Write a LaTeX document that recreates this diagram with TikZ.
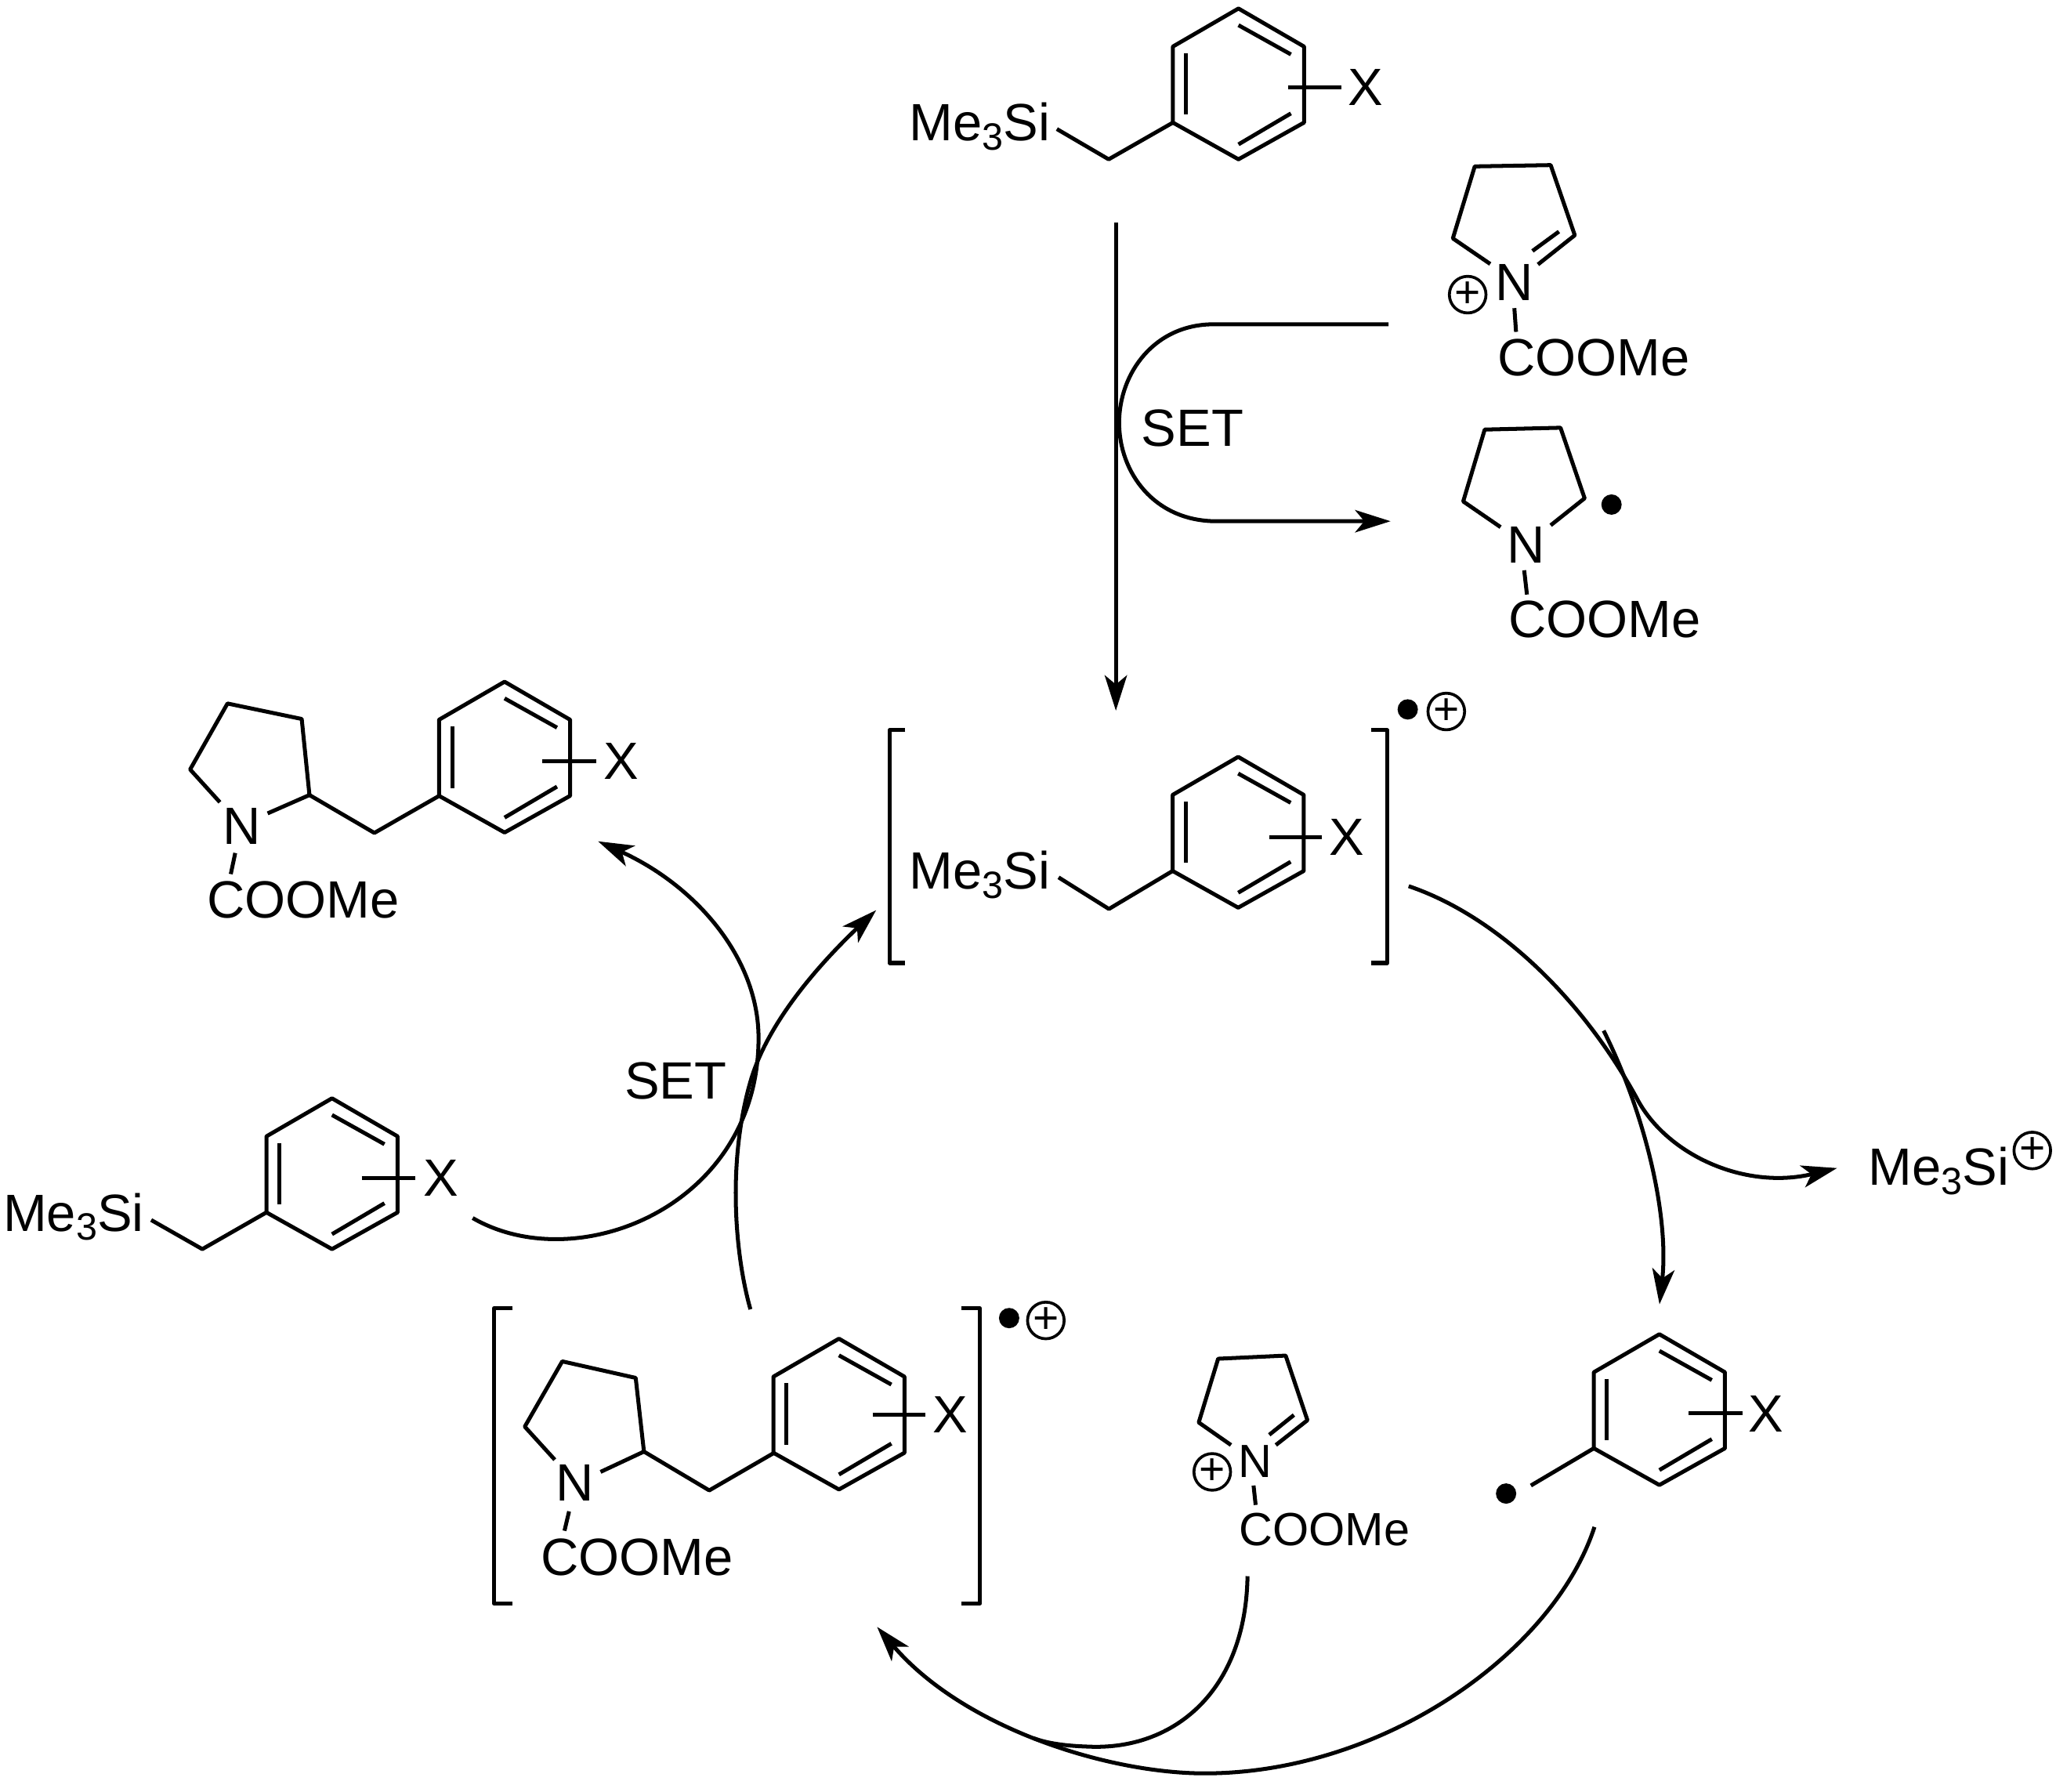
\documentclass[tikz,border=0pt]{standalone}
\usepackage{fontspec}
\setmainfont{Liberation Sans}
\usetikzlibrary{arrows.meta}
\newcommand{\tmsi}{Me{\raisebox{-7pt}{\fontsize{29}{29}\selectfont 3}}Si}
\tikzset{
  bond/.style={line width=3pt,line join=round,line cap=butt},
  link/.style={line width=3pt,line join=round},
  rxn/.style={line width=3pt,-{Stealth[length=27pt,width=17pt,inset=7pt]}},
  chem/.style={inner sep=0pt,outer sep=0pt,font=\fontsize{40}{40}\selectfont},
  lbl/.style={chem,anchor=base west,xshift=-1.5pt},
  chemsmall/.style={inner sep=0pt,outer sep=0pt,font=\fontsize{35.5}{35.5}\selectfont},
  charge/.style={circle,draw,line width=2.2pt,minimum size=27pt,inner sep=0pt,outer sep=0pt,font=\fontsize{34}{34}\selectfont},
  radical/.style={circle,fill=black,draw=none,minimum size=15.5pt,inner sep=0pt,outer sep=0pt},
  benzring/.pic={
    \draw[bond] (0,0) -- (50,29) -- (50,87) -- (0,115) -- (-50,87) -- (-50,29) -- cycle;
    \draw[bond] (-40,34) -- (-40,81);
    \draw[bond] (0,12.7) -- (40,35);
    \draw[bond] (0,103.6) -- (40,80);
  }
}
\begin{document}
\begin{tikzpicture}[x=1pt,y=-1pt]
\useasboundingbox (0,0) rectangle (1568,1366.6);

% --- top substrate
\pic at (944.5,6.5) {benzring};
\node[lbl] (tmsA) at (695,107.4) {\tmsi};
\node[chem] (xA) at (1041.7,66.9) {X};
\coordinate (xbA) at (982.2,66.9);
\coordinate (xeA) at (1023,66.9);
\coordinate (chA) at (845.5,121.5);
\coordinate (ipA) at (894.5,93.5);
\coordinate (siA) at (806,98.4);
\draw[bond] (siA) -- (chA) -- (ipA);
\draw[bond] (xbA) -- (xeA);

% --- N-acyliminium (top)
\node[chem] (nB) at (1154.9,215.4) {N};
\node[lbl] (coB) at (1143.6,286.4) {COOMe};
\node[charge] (plusB) at (1119.3,224.7) {+};
\coordinate (b1) at (1136.5,201.3);
\coordinate (b2) at (1108,181.8);
\coordinate (b3) at (1124.7,126.9);
\coordinate (b4) at (1182.6,125.9);
\coordinate (b5) at (1201,179.4);
\coordinate (b6) at (1172.9,201.7);
\draw[bond] (b1) -- (b2) -- (b3) -- (b4) -- (b5) -- (b6);
\draw[bond] (1188.9,176.6) -- (1168.7,191.4);
\draw[bond] (1154.9,235) -- (1156.2,253.1);

% --- alpha-amino radical (top)
\node[chem] (nC) at (1163.7,415.7) {N};
\node[lbl] (coC) at (1152,486.4) {COOMe};
\node[radical] (dotC) at (1229,384.8) {};
\coordinate (c1) at (1144.4,402);
\coordinate (c2) at (1115.9,382.4);
\coordinate (c3) at (1132.3,327.6);
\coordinate (c4) at (1190.1,326.2);
\coordinate (c5) at (1208.5,380);
\coordinate (c6) at (1182.6,400.6);
\draw[bond] (c1) -- (c2) -- (c3) -- (c4) -- (c5) -- (c6);
\draw[bond] (1162.4,434.9) -- (1164.5,453.4);

% --- top arrows
\coordinate (vTop) at (851,169.8);
\coordinate (vEnd) at (851,542);
\draw[rxn] (vTop) -- (vEnd);
\coordinate (uIn) at (1059,247.3);
\coordinate (uOut) at (1060.5,397.5);
\draw[rxn] (uIn) -- (925.6,247.3) .. controls (880,247.3) and (853.5,285) .. (853.5,322.4)
  .. controls (853.5,360) and (880,397.5) .. (927.7,397.5) -- (uOut);
\node[lbl] (setA) at (872,340.6) {SET};

% --- radical cation (middle)
\pic at (944.3,577.2) {benzring};
\node[lbl] (tmsD) at (695.2,678.2) {\tmsi};
\node[chem] (xD) at (1026.9,638.3) {X};
\coordinate (chD) at (845.7,693.2);
\coordinate (ipD) at (894.3,664.2);
\coordinate (siD) at (807.3,669.1);
\draw[bond] (siD) -- (chD) -- (ipD);
\draw[bond] (968,638.3) -- (1008.3,638.3);
\draw[bond] (690.4,556.9) -- (678.4,556.9) -- (678.4,734.4) -- (690.4,734.4);
\draw[bond] (1045.5,556.9) -- (1058,556.9) -- (1058,734.4) -- (1045.5,734.4);
\node[radical] (dotD) at (1073.6,541) {};
\node[charge] (plusD) at (1103,542.6) {+};

% --- Me3Si+ branch
\node[lbl] (tmsE) at (1426.3,903.9) {\tmsi};
\node[charge] (plusE) at (1549.9,877.4) {+};
\coordinate (dStart) at (1074.3,675.8);
\coordinate (split) at (1248,837);
\coordinate (splitB) at (1223,786);
\coordinate (tipE) at (1401,890.8);
\coordinate (tipF) at (1265.6,994.7);
\draw[rxn] (dStart) .. controls (1140,698) and (1205,759) .. (split)
  .. controls (1270,880) and (1330,908) .. (tipE);
\draw[rxn] (splitB) .. controls (1255,850) and (1273,928) .. (tipF);

% --- aryl-methyl radical (right)
\pic at (1265.5,1017.5) {benzring};
\node[chem] (xF) at (1347,1078) {X};
\node[radical] (dotF) at (1148.6,1139) {};
\coordinate (ipF) at (1215.5,1104.5);
\coordinate (bdF) at (1167.5,1132.9);
\draw[bond] (bdF) -- (ipF);
\draw[bond] (1288,1077.5) -- (1329,1077.5);

% --- N-acyliminium (bottom centre)
\node[chemsmall] (nG) at (957,1114.4) {N};
\node[chemsmall,anchor=base west] (coG) at (945,1178.5) {COOMe};
\node[charge] (plusG) at (924.5,1122.5) {+};
\coordinate (g1) at (938.8,1102);
\coordinate (g2) at (914.2,1084.8);
\coordinate (g3) at (929,1036.2);
\coordinate (g4) at (980.5,1033.8);
\coordinate (g5) at (997.1,1083.1);
\coordinate (g6) at (973,1102);
\draw[bond] (g1) -- (g2) -- (g3) -- (g4) -- (g5) -- (g6);
\draw[bond] (986.8,1079.1) -- (968,1094.2);
\draw[bond] (956,1132.9) -- (957.6,1147.7);

% --- bottom arcs
\coordinate (rStart) at (1216,1164.5);
\coordinate (lStart) at (951.4,1202);
\coordinate (lEnd) at (788,1325.5);
\coordinate (tipH) at (668.9,1240.7);
\draw[rxn] (rStart) .. controls (1185,1260) and (1055,1352.4) .. (918.8,1352.4)
  .. controls (845,1352.4) and (735,1318) .. (tipH);
\draw[link] (lStart) .. controls (950,1290) and (895,1335) .. (830,1332)
  .. controls (815,1331.5) and (800,1330) .. (lEnd);

% --- bracketed product radical cation
\pic at (639.8,1020.9) {benzring};
\node[chem] (nH) at (438.5,1131) {N};
\node[lbl] (coH) at (414,1201.2) {COOMe};
\node[chem] (xH) at (725,1079) {X};
\coordinate (h1) at (423.1,1113.2);
\coordinate (h2) at (400.2,1088);
\coordinate (h3) at (428.8,1038.2);
\coordinate (h4) at (484.8,1050.8);
\coordinate (h5) at (491.1,1107);
\coordinate (h6) at (458,1122.5);
\coordinate (h7) at (540.9,1136.6);
\coordinate (h8) at (590.3,1108);
\draw[bond] (h1) -- (h2) -- (h3) -- (h4) -- (h5) -- (h6);
\draw[bond] (h5) -- (h7) -- (h8);
\draw[bond] (434,1152.6) -- (430.5,1167.4);
\draw[bond] (665.5,1079) -- (705.5,1079);
\draw[bond] (391,997.8) -- (376.8,997.8) -- (376.8,1222.9) -- (391,1222.9);
\draw[bond] (733,997.8) -- (747.3,997.8) -- (747.3,1222.9) -- (733,1222.9);
\node[radical] (dotH) at (769.6,1005.2) {};
\node[charge] (plusH) at (797.6,1007) {+};

% --- product (upper left)
\pic at (384.8,519.9) {benzring};
\node[chem] (nJ) at (184.4,630) {N};
\node[lbl] (coJ) at (159.3,700.2) {COOMe};
\node[chem] (xJ) at (473.7,580.7) {X};
\coordinate (j1) at (167.7,611.8);
\coordinate (j2) at (145,586.8);
\coordinate (j3) at (173.5,536.5);
\coordinate (j4) at (230.1,548.3);
\coordinate (j5) at (236,606.3);
\coordinate (j6) at (204.1,620.3);
\coordinate (j7) at (285.5,635.2);
\coordinate (j8) at (334.8,607);
\draw[bond] (j1) -- (j2) -- (j3) -- (j4) -- (j5) -- (j6);
\draw[bond] (j5) -- (j7) -- (j8);
\draw[bond] (179.4,650.5) -- (176,666.6);
\draw[bond] (413.8,580.7) -- (454.8,580.7);

% --- substrate (lower left)
\pic at (253.2,837.6) {benzring};
\node[lbl] (tmsK) at (4,938.8) {\tmsi};
\node[chem] (xK) at (336.2,898.4) {X};
\coordinate (chK) at (154.3,952.6);
\coordinate (ipK) at (203.2,924.6);
\coordinate (siK) at (115.3,930.4);
\draw[bond] (siK) -- (chK) -- (ipK);
\draw[bond] (275.8,898.4) -- (316.5,898.4);

% --- left arcs
\coordinate (kStart) at (360.5,928.9);
\coordinate (tipJ) at (456.1,641.6);
\draw[rxn] (kStart) .. controls (440,975) and (578.5,920) .. (578.5,791.7)
  .. controls (578.5,730) and (530,675) .. (tipJ);
\node[lbl] (setB) at (477.9,838.3) {SET};
\coordinate (hStart) at (572.3,998.5);
\coordinate (tipD) at (668.2,694.1);
\draw[rxn] (hStart) .. controls (560,955) and (555,885) .. (572.2,825.2)
  .. controls (585,780) and (625,735) .. (tipD);
\end{tikzpicture}
\end{document}
